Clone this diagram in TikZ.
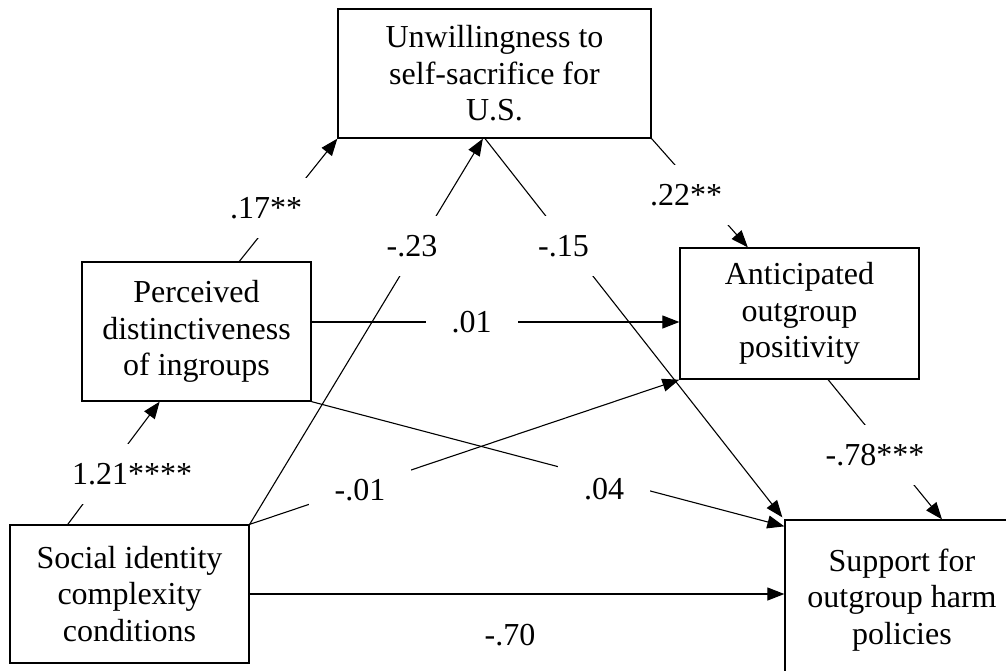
\documentclass[tikz,border=0pt]{standalone}
\usepackage{fontspec}
\setmainfont{Liberation Serif}
\usetikzlibrary{arrows.meta,calc}
\begin{document}
\begin{tikzpicture}[x=1pt,y=-1pt,
  txt/.style={font=\fontsize{32}{36.5}\selectfont},
  box/.style={txt,draw,line width=1.3pt,rectangle,inner sep=0pt,align=center},
  arr/.style={line width=1.1pt,-{Triangle[length=17pt,width=13pt]}},
  coef/.style={txt,fill=white,inner xsep=26pt,inner ysep=19pt},
  plaincoef/.style={txt,inner sep=0pt}]
\useasboundingbox (0,0) rectangle (1006,670);
\clip (0,0) rectangle (1006,670);

% variables of the path model
\node[box,minimum width=313pt,minimum height=129pt] (unw) at (494.5,73.5)
  {Unwillingness to\\self-sacrifice for\\U.S.};
\node[box,minimum width=229pt,minimum height=139pt] (per) at (196.5,331.5)
  {Perceived\\distinctiveness\\of ingroups};
\node[box,minimum width=239pt,minimum height=138pt] (soc) at (129.5,594)
  {Social identity\\complexity\\conditions};
\node[box,minimum width=239pt,minimum height=131pt] (ant) at (799.5,313.5)
  {Anticipated\\outgroup\\positivity};
\node[box,minimum width=234pt,minimum height=160pt] (sup) at (902,600)
  {Support for\\outgroup harm\\policies};

% paths
\draw[arr] ($(soc.north west)!0.243!(soc.north east)$) -- ($(per.south west)!0.34!(per.south east)$);
\draw[arr] ($(per.north west)!0.686!(per.north east)$) -- (unw.south west);
\draw[arr] (soc.north east) -- ($(unw.south west)!0.463!(unw.south east)$);
\draw[arr] ($(unw.south west)!0.47!(unw.south east)$) -- ([xshift=-2pt,yshift=2pt]sup.north west);
\draw[arr] (unw.south east) -- ($(ant.north west)!0.285!(ant.north east)$);
\draw[arr] ([yshift=9.5pt]per.east) -- ([yshift=9.5pt]per.east -| ant.west);
\draw[arr] (per.south east) -- ([yshift=-7pt]sup.north west);
\draw[arr] (soc.north east) -- (ant.south west);
\draw[arr] (soc.east) -- (soc.east -| sup.west);
\draw[arr] ($(ant.south west)!0.619!(ant.south east)$) -- ($(sup.north west)!0.67!(sup.north east)$);

% path coefficients
\node[coef] (c1) at (132,474) {1.21****};
\node[coef] (c2) at (266,208) {.17**};
\node[coef] (c3) at (412,246) {-.23};
\node[coef] (c4) at (563.5,246) {-.15};
\node[coef] (c5) at (686,195) {.22**};
\node[coef] (c6) at (471.5,322) {.01};
\node[coef] (c7) at (360,490.5) {-.01};
\node[coef] (c8) at (604,489) {.04};
\node[coef] (c9) at (875,455) {-.78***};
\node[plaincoef] (c10) at (510,635) {-.70};
\end{tikzpicture}
\end{document}
